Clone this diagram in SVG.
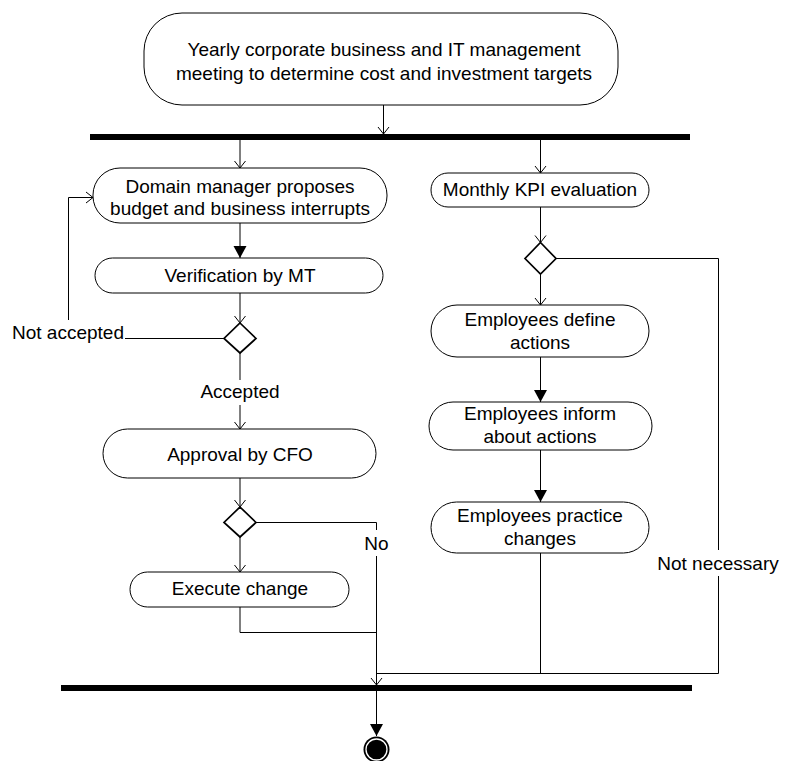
<svg xmlns="http://www.w3.org/2000/svg" width="786" height="761" viewBox="0 0 786 761">
  <style>
    text { font-family: "Liberation Sans", Arial, sans-serif; font-size: 19px; fill: #000; text-anchor: middle; }
    .node rect { fill: #fff; stroke: #000; stroke-width: 1; }
    .dec { fill: #fff; stroke: #000; stroke-width: 1.7; }
    .edge { fill: none; stroke: #000; stroke-width: 1; }
    .bar { fill: #000; }
    .lbl-bg { fill: #fff; }
  </style>
  <defs>
    <marker id="open" markerUnits="userSpaceOnUse" markerWidth="20" markerHeight="20" viewBox="-10 -10 20 20" refX="0" refY="0" orient="auto" overflow="visible">
      <path d="M-7,-5.5 L0,0 L-7,5.5" fill="none" stroke="#000" stroke-width="1"/>
    </marker>
    <marker id="solid" markerUnits="userSpaceOnUse" markerWidth="20" markerHeight="20" viewBox="-14 -10 20 20" refX="0" refY="0" orient="auto" overflow="visible">
      <path d="M-12,-6.5 L0,0 L-12,6.5 Z" fill="#000"/>
    </marker>
  </defs>

  <!-- connectors -->
  <g id="connectors">
    <path class="edge" d="M383.5,105 V134" marker-end="url(#open)"/>
    <path class="edge" d="M240,140 V168" marker-end="url(#open)"/>
    <path class="edge" d="M540.5,140 V173" marker-end="url(#open)"/>
    <path class="edge" d="M240,223 V258" marker-end="url(#solid)"/>
    <path class="edge" d="M240,293 V323" marker-end="url(#open)"/>
    <path class="edge" d="M224,338.5 H68.5 V197.5 H93" marker-end="url(#open)"/>
    <path class="edge" d="M240,353 V429" marker-end="url(#open)"/>
    <path class="edge" d="M240,478 V507" marker-end="url(#open)"/>
    <path class="edge" d="M256,522.5 H376.5 V685" marker-end="url(#open)"/>
    <path class="edge" d="M240,537 V572" marker-end="url(#open)"/>
    <path class="edge" d="M240,607 V632.5 H376.5"/>
    <path class="edge" d="M540.5,207 V242.5" marker-end="url(#open)"/>
    <path class="edge" d="M556,258.5 H718.5 V673.5 H376.5"/>
    <path class="edge" d="M540.5,274 V305" marker-end="url(#open)"/>
    <path class="edge" d="M540.5,357 V402" marker-end="url(#solid)"/>
    <path class="edge" d="M540.5,450 V502" marker-end="url(#solid)"/>
    <path class="edge" d="M540.5,553 V673.5"/>
    <path class="edge" d="M376.5,691 V736" marker-end="url(#solid)"/>

    <!-- edge labels -->
    <rect class="lbl-bg" x="11" y="320" width="114" height="24"/>
    <text x="68" y="339">Not accepted</text>
    <rect class="lbl-bg" x="200" y="380" width="80" height="25"/>
    <text x="240" y="398">Accepted</text>
    <rect class="lbl-bg" x="363" y="530" width="27" height="26"/>
    <text x="376.5" y="550">No</text>
    <rect class="lbl-bg" x="656" y="550" width="124" height="26"/>
    <text x="718" y="570">Not necessary</text>
  </g>

  <!-- synchronisation bars -->
  <g id="fork">
    <rect class="bar" x="90" y="134" width="600" height="6"/>
  </g>
  <g id="join">
    <rect class="bar" x="61" y="685" width="631" height="6"/>
  </g>

  <!-- activities -->
  <g id="meeting" class="node">
    <rect x="144" y="13" width="474" height="92" rx="38" ry="38"/>
    <text x="384" y="56">Yearly corporate business and IT management</text>
    <text x="384" y="80">meeting to determine cost and investment targets</text>
  </g>
  <g id="propose" class="node">
    <rect x="93" y="168" width="294" height="55" rx="27" ry="27"/>
    <text x="240" y="193">Domain manager proposes</text>
    <text x="240" y="215">budget and business interrupts</text>
  </g>
  <g id="verify" class="node">
    <rect x="95" y="258" width="288" height="35" rx="17.5" ry="17.5"/>
    <text x="240" y="282">Verification by MT</text>
  </g>
  <g id="verify-decision">
    <polygon class="dec" points="240,323 256,338.5 240,353 224,338.5"/>
  </g>
  <g id="approve" class="node">
    <rect x="103" y="429" width="273" height="49" rx="24.5" ry="24.5"/>
    <text x="240" y="461">Approval by CFO</text>
  </g>
  <g id="approve-decision">
    <polygon class="dec" points="240,507 256,522.5 240,537 224,522.5"/>
  </g>
  <g id="execute" class="node">
    <rect x="130" y="572" width="219" height="35" rx="17.5" ry="17.5"/>
    <text x="240" y="595">Execute change</text>
  </g>
  <g id="kpi" class="node">
    <rect x="431" y="173" width="218" height="34" rx="17" ry="17"/>
    <text x="540" y="196">Monthly KPI evaluation</text>
  </g>
  <g id="kpi-decision">
    <polygon class="dec" points="540.5,242.5 556,258.5 540.5,274 525,258.5"/>
  </g>
  <g id="define" class="node">
    <rect x="431" y="305" width="218" height="52" rx="26" ry="26"/>
    <text x="540" y="326">Employees define</text>
    <text x="540" y="349">actions</text>
  </g>
  <g id="inform" class="node">
    <rect x="429" y="402" width="223" height="48" rx="24" ry="24"/>
    <text x="540" y="420">Employees inform</text>
    <text x="540" y="443">about actions</text>
  </g>
  <g id="practice" class="node">
    <rect x="431" y="502" width="218" height="51" rx="25.5" ry="25.5"/>
    <text x="540" y="522">Employees practice</text>
    <text x="540" y="545">changes</text>
  </g>

  <!-- final node -->
  <g id="end">
    <circle cx="376.5" cy="749.5" r="13" fill="#000"/>
    <circle cx="376.5" cy="749.5" r="10.5" fill="none" stroke="#fff" stroke-width="1.3"/>
  </g>
</svg>
